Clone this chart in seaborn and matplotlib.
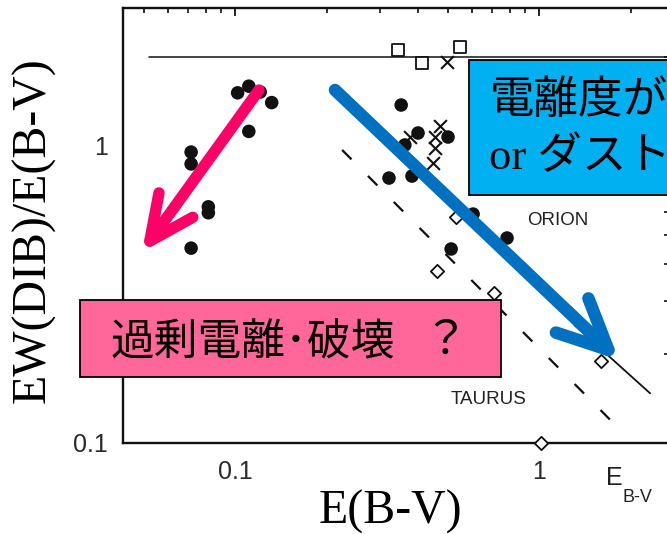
import matplotlib
matplotlib.use("Agg")
import matplotlib.pyplot as plt
import seaborn as sns
from matplotlib.patches import Rectangle, FancyArrowPatch, ArrowStyle
from matplotlib.transforms import IdentityTransform
from matplotlib.ticker import FixedLocator, LogLocator, FixedFormatter, NullFormatter

# ---- data: E(B-V) against EW(DIB)/E(B-V) ----
filled_x = [0.102, 0.111, 0.121, 0.132, 0.111, 0.0717, 0.0717, 0.0817, 0.0817, 0.0717,
            0.352, 0.400, 0.502, 0.362, 0.321, 0.382, 0.607, 0.785, 0.514]
filled_y = [1.51, 1.59, 1.52, 1.40, 1.12, 0.954, 0.87, 0.624, 0.596, 0.453,
            1.374, 1.106, 1.072, 1.008, 0.780, 0.792, 0.590, 0.490, 0.450]
cross_x = [0.498, 0.472, 0.455, 0.377, 0.455, 0.448]
cross_y = [1.92, 1.168, 1.072, 1.072, 0.985, 0.877]
square_x = [0.344, 0.412, 0.550]
square_y = [2.10, 1.90, 2.15]
diamond_x = [0.533, 0.462, 0.711, 1.60, 1.015]
diamond_y = [0.577, 0.380, 0.320, 0.189, 0.100]

# reference relations
upper_x = [0.052, 2.7]
upper_y = [2.0, 2.0]
taurus_x = [0.225, 1.71]
taurus_y = [0.97, 0.12]
orion_x = [1.31, 2.32]
orion_y = [0.249, 0.147]

x_ticks = [0.1, 1]
x_ticklabels = ["0.1", "1"]
y_ticks = [0.1, 1]
y_ticklabels = ["0.1", "1"]

sns.set_style("white")
plt.rcParams["font.family"] = ["Liberation Sans", "DejaVu Sans"]

fig = plt.figure(figsize=(6.67, 5.34), dpi=100)
W, H = 667, 534
ax = fig.add_axes([123 / W, 91 / H, 546 / W, 435 / H])
ax.set_xscale("log")
ax.set_yscale("log")

ink = "#111111"
line_kw = dict(color=ink, estimator=None, sort=False, legend=False, ax=ax)
sns.lineplot(x=upper_x, y=upper_y, linewidth=1.1, **line_kw)
l_t = sns.lineplot(x=taurus_x, y=taurus_y, linewidth=1.6, **line_kw).lines[-1]
l_t.set_dashes((6, 10.5))
sns.lineplot(x=orion_x, y=orion_y, linewidth=1.3, **line_kw)

sns.scatterplot(x=filled_x, y=filled_y, marker="o", s=95, color=ink,
                edgecolor="none", ax=ax, zorder=3)
sns.scatterplot(x=cross_x, y=cross_y, marker="x", s=85, color=ink,
                linewidth=1.5, ax=ax, zorder=3)
sns.scatterplot(x=square_x, y=square_y, marker="s", s=72, color="white",
                edgecolor=ink, linewidth=1.3, ax=ax, zorder=3)
sns.scatterplot(x=diamond_x, y=diamond_y, marker="D", s=46, color="white",
                edgecolor=ink, linewidth=1.3, ax=ax, zorder=3, clip_on=False)

ax.set_xlim(0.0428, 2.677)
ax.set_ylim(0.1, 2.915)

for axis, ticks, labels in ((ax.xaxis, x_ticks, x_ticklabels), (ax.yaxis, y_ticks, y_ticklabels)):
    axis.set_major_locator(FixedLocator(ticks))
    axis.set_major_formatter(FixedFormatter(labels))
    axis.set_minor_locator(LogLocator(base=10, subs=range(2, 10)))
    axis.set_minor_formatter(NullFormatter())

ax.tick_params(which="both", direction="in", top=True, right=True, color=ink)
ax.tick_params(which="major", length=6, width=1.3)
ax.tick_params(which="minor", length=3.5, width=1.2)
ax.tick_params(axis="x", which="major", pad=12, labelsize=18, labelcolor="#2a2a2a")
ax.tick_params(axis="y", which="major", pad=11, labelsize=18, labelcolor="#2a2a2a")
for sp in ax.spines.values():
    sp.set_linewidth(1.7)
    sp.set_color(ink)

serif = ["Liberation Serif", "Noto Sans CJK JP"]
ax.set_xlabel("E(B-V)", family=serif, fontsize=34.5, color="black")
ax.xaxis.label.set_va("baseline")
ax.xaxis.set_label_coords((390 - 123) / 546, (443 - 524) / 435)
ax.set_ylabel("EW(DIB)/E(B-V)", family=serif, fontsize=34.5, color="black")
ax.yaxis.label.set_va("center")
ax.yaxis.set_label_coords((34 - 123) / 546, (443 - 230) / 435)

ax.text(1.155, 0.563, "ORION", fontsize=13.5, color="#222222", ha="center", va="center")
ax.text(0.68, 0.1396, "TAURUS", fontsize=13.5, color="#222222", ha="center", va="center")

pix = IdentityTransform()
fig.text(606, H - 485, "E", transform=pix, fontsize=18, color="#222222", va="baseline")
fig.text(623, H - 502, "B-V", transform=pix, fontsize=13, color="#222222", va="baseline")

# arrows
pink = "#FF0066"
blue = "#0070C0"
fig.add_artist(FancyArrowPatch(posA=(259, H - 90), posB=(142, H - 252), transform=pix,
                               arrowstyle=ArrowStyle("->", head_length=32, head_width=15),
                               mutation_scale=1, lw=8.2, color=pink, shrinkA=0, shrinkB=0,
                               capstyle="round", joinstyle="round", zorder=5))
fig.add_artist(FancyArrowPatch(posA=(335, H - 90), posB=(619, H - 360), transform=pix,
                               arrowstyle=ArrowStyle("->", head_length=36, head_width=17),
                               mutation_scale=1, lw=9.0, color=blue, shrinkA=0, shrinkB=0,
                               capstyle="round", joinstyle="round", zorder=5))

# captions
cjk = ["Noto Sans CJK JP", "DejaVu Sans"]
fig.add_artist(Rectangle((80, H - 377), 421, 77, transform=pix, facecolor="#FF6699",
                         edgecolor="black", linewidth=1.3, zorder=6))
fig.text(110, H - 341, "過剰電離･破壊", transform=pix, family=cjk, fontsize=31.5,
         color="black", ha="left", va="center", zorder=7)
fig.text(445, H - 341, "？", transform=pix, family=cjk, fontsize=33,
         color="black", ha="center", va="center", zorder=7)
fig.add_artist(Rectangle((469, H - 195), 260, 135, transform=pix, facecolor="#00B0F0",
                         edgecolor="black", linewidth=1.3, zorder=6))
fig.text(490, H - 100, "電離度が低い", transform=pix, family=cjk, fontsize=32,
         color="black", ha="left", va="center", zorder=7)
fig.text(489, H - 157, "or ダストに吸着", transform=pix, family=serif, fontsize=32,
         color="black", ha="left", va="center", zorder=7)

fig.savefig("out.png", dpi=100)
